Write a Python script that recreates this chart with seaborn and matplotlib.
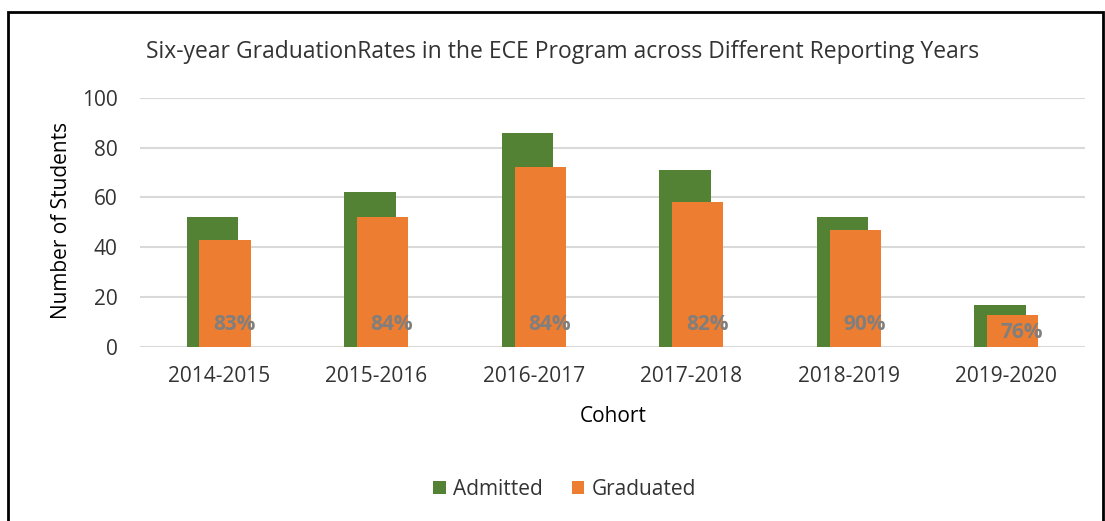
import pandas as pd
import matplotlib.pyplot as plt
import matplotlib.patches as mpatches
import seaborn as sns

# Values
cohorts = ['2014-2015', '2015-2016', '2016-2017', '2017-2018', '2018-2019', '2019-2020']
admitted = [52, 62, 86, 71, 52, 17]
graduated = [43, 52, 72, 58, 47, 13]
rates = ['83%', '84%', '84%', '82%', '90%', '76%']

series_names = ['Admitted', 'Graduated']
colors = {'Admitted': '#548235', 'Graduated': '#ED7D31'}
TEXT = '#333333'

df = pd.DataFrame({
    'Cohort': cohorts * 2,
    'Series': ['Admitted'] * len(cohorts) + ['Graduated'] * len(cohorts),
    'Students': admitted + graduated,
})

sns.set_theme(style='white')
plt.rcParams['font.family'] = ['Open Sans', 'DejaVu Sans']

fig = plt.figure(figsize=(11.05, 5.21), dpi=100)
ax = fig.add_axes([0.1267, 0.334, 0.8553, 0.4785])

# overlapping bars (Excel style): small dodge, negative gap widens bars
sns.barplot(data=df, x='Cohort', y='Students', hue='Series', hue_order=series_names,
            palette=colors, width=0.16, gap=-3.06, dodge=True, saturation=1,
            linewidth=0, ax=ax, zorder=3)

ax.set_ylim(0, 100)
ax.set_xlim(-0.5, len(cohorts) - 0.5)
ax.set_yticks(range(0, 101, 20))
ax.yaxis.grid(True, color='#D9D9D9', linewidth=1.5, zorder=0)
ax.set_axisbelow(True)
sns.despine(ax=ax, left=True, bottom=True)
ax.tick_params(axis='both', length=0, labelsize=15, colors=TEXT)
ax.tick_params(axis='x', pad=14)
ax.tick_params(axis='y', pad=16)

ax.set_xlabel('')
ax.set_ylabel('')
fig.text(0.056, 0.577, 'Number of Students', rotation=90, ha='center', va='center',
         fontsize=15, color='black')
fig.text(0.555, 0.2, 'Cohort', ha='center', va='center', fontsize=15, color='black')
fig.text(0.509, 0.9, 'Six-year GraduationRates in the ECE Program across Different Reporting Years',
         ha='center', va='center', fontsize=16.5, color=TEXT)

# graduation-rate labels near the bar base
for i, (g, r) in enumerate(zip(graduated, rates)):
    ax.text(i + 0.1, min(9, 0.45 * g), r, ha='center', va='center',
            fontsize=15, fontweight='bold', color='#7F7F7F', zorder=5)

handles, labels = ax.get_legend_handles_labels()
ax.legend_.remove()
fig.legend(handles, labels, loc='center', bbox_to_anchor=(0.511, 0.061), ncol=2,
           frameon=False, fontsize=15, handlelength=0.6, handleheight=0.6,
           handletextpad=0.35, columnspacing=1.4, labelcolor=TEXT)

# outer chart border (Excel frame, bottom cropped)
fig.patches.append(mpatches.Rectangle((8 / 1105, -0.05), 1095 / 1105, 1.05 - 12 / 521,
                                      transform=fig.transFigure, fill=False,
                                      edgecolor='black', linewidth=2))

fig.savefig('out.png', dpi=100)
